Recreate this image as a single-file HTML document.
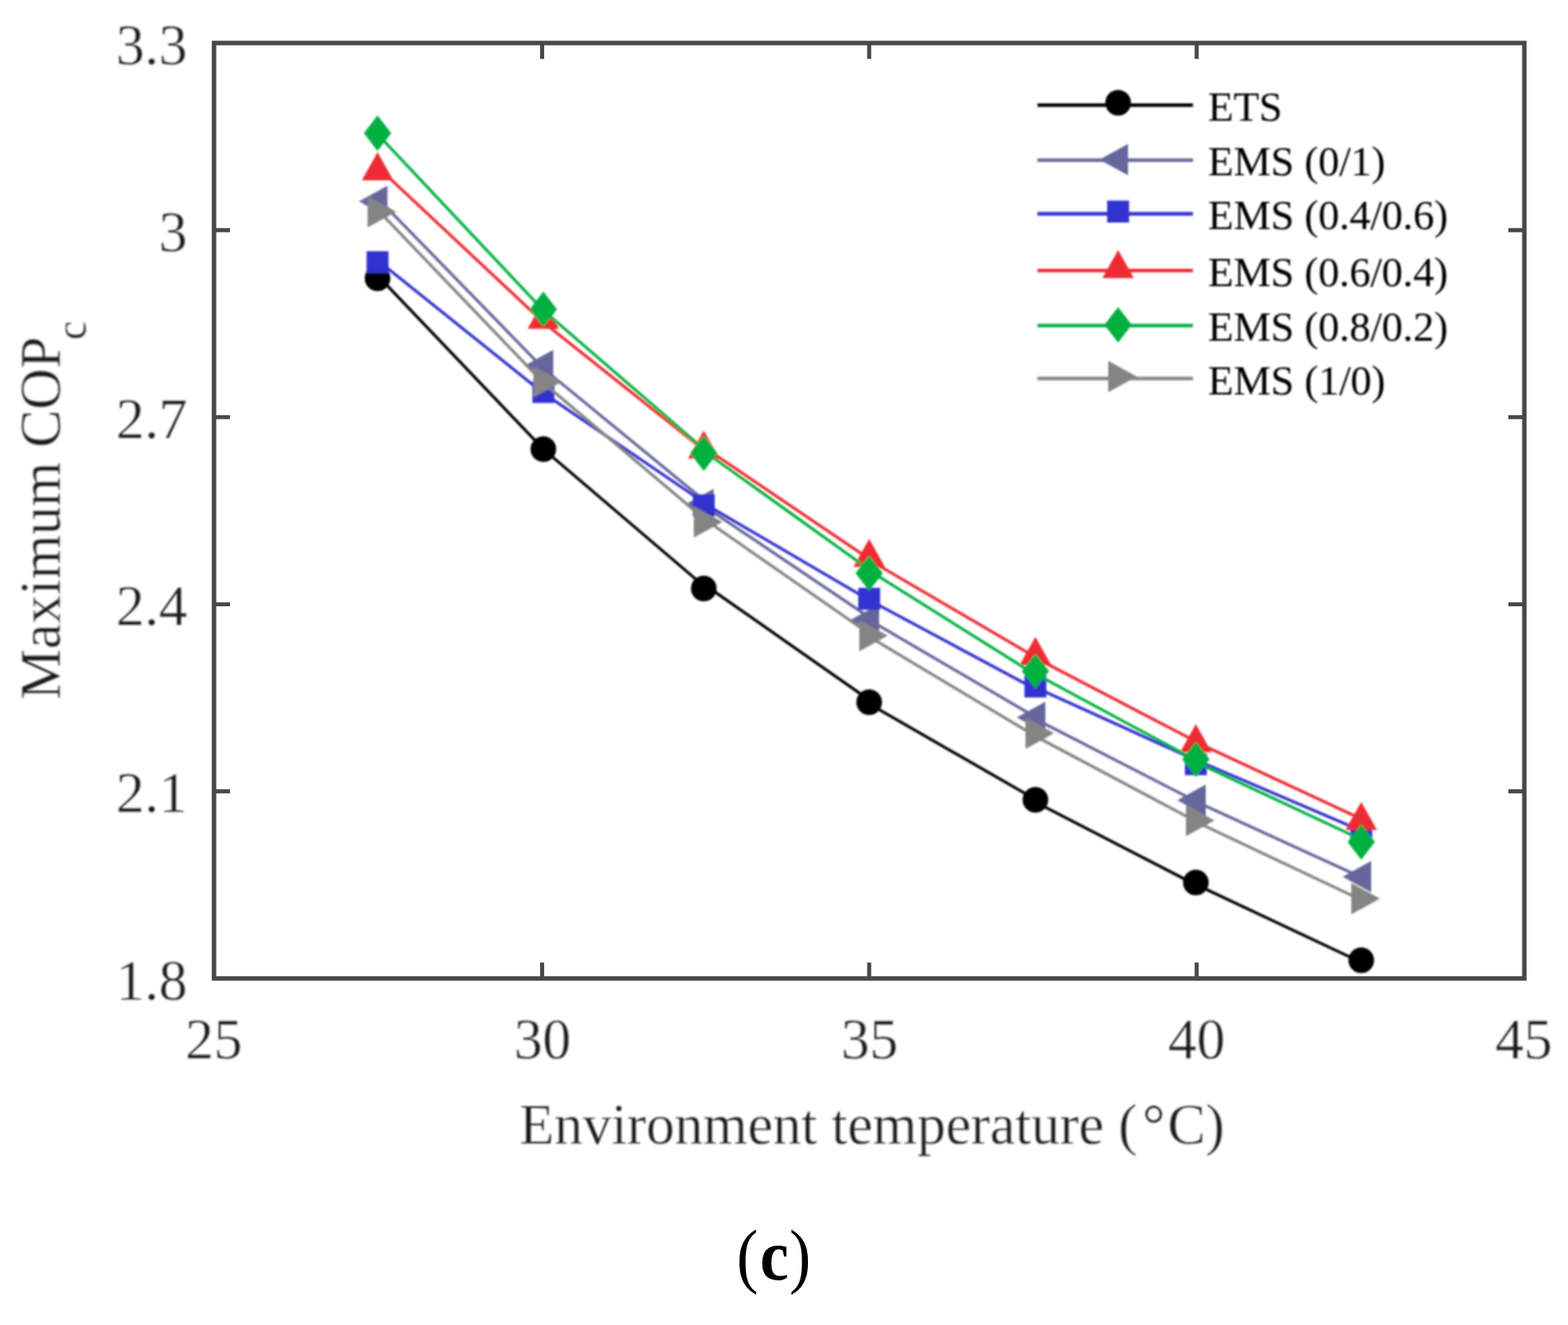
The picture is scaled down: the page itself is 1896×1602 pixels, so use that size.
<!DOCTYPE html>
<html lang="en"><head><meta charset="utf-8"><title>Maximum COPc vs environment temperature</title>
<style>
html,body{margin:0;padding:0;background:#fff;}
body{width:1896px;height:1602px;overflow:hidden;}
svg{display:block;}
text{font-family:"Liberation Serif","DejaVu Serif",serif;}
.tick{font-size:69px;fill:#1e1e1e;stroke:#fff;stroke-width:0.3px;stroke-linejoin:round;}
.leg{font-size:51px;fill:#000;letter-spacing:-0.24px;}
.cap{font-size:86.6px;fill:#000;}
</style></head><body>
<svg width="1896" height="1602" viewBox="0 0 1896 1602" role="img" aria-label="Maximum COPc versus environment temperature">
<defs><filter id="soft" x="-2%" y="-2%" width="104%" height="104%"><feGaussianBlur stdDeviation="0.8"/></filter></defs>
<rect width="1896" height="1602" fill="#ffffff"/>
<g fill="none" stroke="#484848">
<rect x="258.8" y="52" width="1584.4" height="1131" stroke-width="5.4"/>
<path d="M655.5 1183v-19.3M655.5 52v19.3M1051 1183v-19.3M1051 52v19.3M1447 1183v-19.3M1447 52v19.3M258.8 278.2h19.3M1843.2 278.2h-19.3M258.8 504.4h19.3M1843.2 504.4h-19.3M258.8 730.6h19.3M1843.2 730.6h-19.3M258.8 956.8h19.3M1843.2 956.8h-19.3" stroke-width="4.9"/>
</g>
<g filter="url(#soft)">
<path d="M456.5 333L657 543M657 543L851 708.5M851 706.2L1051 846.3M1051 850.9L1252 966.6M1252 969.7L1446 1069.9M1446 1069.4L1646 1163.5" fill="none" stroke="#000000" stroke-width="3.5" stroke-linecap="round"/>
<circle cx="456.5" cy="336.5" r="15.5" fill="#000000"/>
<circle cx="657" cy="543" r="15.5" fill="#000000"/>
<circle cx="851" cy="711.5" r="15.5" fill="#000000"/>
<circle cx="1051" cy="849" r="15.5" fill="#000000"/>
<circle cx="1252" cy="967" r="15.5" fill="#000000"/>
<circle cx="1446" cy="1067" r="15.5" fill="#000000"/>
<circle cx="1646" cy="1161" r="15.5" fill="#000000"/>
<path d="M456.5 239.5L657 445.5M657 445.5L851 604.7M851 611.5L1051 746.2M1051 749.6L1252 867M1252 869.4L1446 968.8M1446 969.2L1646 1060.7" fill="none" stroke="#66669c" stroke-width="3.5" stroke-linecap="round"/>
<polygon points="434,243.5 468.5,224.5 468.5,262.5" fill="#66669c"/>
<polygon points="634.5,442 669,423 669,461" fill="#66669c"/>
<polygon points="828.5,610 863,591 863,629" fill="#66669c"/>
<polygon points="1028.5,749.5 1063,730.5 1063,768.5" fill="#66669c"/>
<polygon points="1229.5,867.5 1264,848.5 1264,886.5" fill="#66669c"/>
<polygon points="1423.5,967.5 1458,948.5 1458,986.5" fill="#66669c"/>
<polygon points="1623.5,1060 1658,1041 1658,1079" fill="#66669c"/>
<path d="M456.5 314.7L657 475.3M657 475.3L851 607.4M851 608.5L1051 725.5M1051 725.5L1252 833.1M1252 831.2L1446 919.1M1446 918.8L1646 1004.4" fill="none" stroke="#3030d0" stroke-width="3.5" stroke-linecap="round"/>
<rect x="443.25" y="303.75" width="26.5" height="26.5" fill="#3030d0"/>
<rect x="643.75" y="460.75" width="26.5" height="26.5" fill="#3030d0"/>
<rect x="837.75" y="597.75" width="26.5" height="26.5" fill="#3030d0"/>
<rect x="1037.75" y="710.75" width="26.5" height="26.5" fill="#3030d0"/>
<rect x="1238.75" y="816.75" width="26.5" height="26.5" fill="#3030d0"/>
<rect x="1432.75" y="910.75" width="26.5" height="26.5" fill="#3030d0"/>
<rect x="1632.75" y="992.25" width="26.5" height="26.5" fill="#3030d0"/>
<path d="M456.5 201.7L657 389.7M657 389.7L851 544M851 540.6L1051 675.7M1051 677.1L1252 794.5M1252 795.4L1446 896.4M1446 897.2L1646 990.1" fill="none" stroke="#ee2c30" stroke-width="3.5" stroke-linecap="round"/>
<polygon points="456.5,184 475.5,218 437.5,218" fill="#ee2c30"/>
<polygon points="657,363.5 676,397.5 638,397.5" fill="#ee2c30"/>
<polygon points="851,520.5 870,554.5 832,554.5" fill="#ee2c30"/>
<polygon points="1051,651.5 1070,685.5 1032,685.5" fill="#ee2c30"/>
<polygon points="1252,770 1271,804 1233,804" fill="#ee2c30"/>
<polygon points="1446,875.5 1465,909.5 1427,909.5" fill="#ee2c30"/>
<polygon points="1646,969.5 1665,1003.5 1627,1003.5" fill="#ee2c30"/>
<path d="M456.5 162.1L657 375.3M657 375.3L851 543M851 545.1L1051 688.6M1051 689.8L1252 815.8M1252 814.8L1446 919.2M1446 921.3L1646 1015" fill="none" stroke="#00b141" stroke-width="3.5" stroke-linecap="round"/>
<polygon points="456.5,139.5 473,161 456.5,182.5 440,161" fill="#00b141"/>
<polygon points="657,352.5 673.5,374 657,395.5 640.5,374" fill="#00b141"/>
<polygon points="851,526.5 867.5,548 851,569.5 834.5,548" fill="#00b141"/>
<polygon points="1051,671.5 1067.5,693 1051,714.5 1034.5,693" fill="#00b141"/>
<polygon points="1252,790 1268.5,811.5 1252,833 1235.5,811.5" fill="#00b141"/>
<polygon points="1446,896.5 1462.5,918 1446,939.5 1429.5,918" fill="#00b141"/>
<polygon points="1646,996.5 1662.5,1018 1646,1039.5 1629.5,1018" fill="#00b141"/>
<path d="M456.5 253.5L657 462.8M657 462.8L851 626.8M851 627.1L1051 766.1M1051 769.8L1252 890M1252 890.1L1446 993M1446 993.5L1646 1088" fill="none" stroke="#848484" stroke-width="3.5" stroke-linecap="round"/>
<polygon points="479,256 444.5,237 444.5,275" fill="#848484"/>
<polygon points="679.5,461.5 645,442.5 645,480.5" fill="#848484"/>
<polygon points="873.5,631 839,612 839,650" fill="#848484"/>
<polygon points="1073.5,768.5 1039,749.5 1039,787.5" fill="#848484"/>
<polygon points="1274.5,886.5 1240,867.5 1240,905.5" fill="#848484"/>
<polygon points="1468.5,992 1434,973 1434,1011" fill="#848484"/>
<polygon points="1668.5,1086.5 1634,1067.5 1634,1105.5" fill="#848484"/>
<path d="M1254.5 127.2H1442.5" stroke="#000000" stroke-width="4.3" fill="none"/>
<circle cx="1352" cy="124.2" r="15.5" fill="#000000"/>
<text class="leg" x="1460.5" y="146">ETS</text>
<path d="M1254.5 193.6H1442.5" stroke="#66669c" stroke-width="4.3" fill="none"/>
<polygon points="1329.5,193.1 1364,174.1 1364,212.1" fill="#66669c"/>
<text class="leg" x="1460.5" y="212.4">EMS (0/1)</text>
<path d="M1254.5 258.5H1442.5" stroke="#3030d0" stroke-width="4.3" fill="none"/>
<rect x="1338.75" y="242.55" width="26.5" height="26.5" fill="#3030d0"/>
<text class="leg" x="1460.5" y="277.3">EMS (0.4/0.6)</text>
<path d="M1254.5 327.2H1442.5" stroke="#ee2c30" stroke-width="4.3" fill="none"/>
<polygon points="1352,302.2 1371,336.2 1333,336.2" fill="#ee2c30"/>
<text class="leg" x="1460.5" y="346">EMS (0.6/0.4)</text>
<path d="M1254.5 393.6H1442.5" stroke="#00b141" stroke-width="4.3" fill="none"/>
<polygon points="1352,371.3 1368.5,392.8 1352,414.3 1335.5,392.8" fill="#00b141"/>
<text class="leg" x="1460.5" y="412.4">EMS (0.8/0.2)</text>
<path d="M1254.5 457.7H1442.5" stroke="#848484" stroke-width="4.3" fill="none"/>
<polygon points="1374.5,455.3 1340,436.3 1340,474.3" fill="#848484"/>
<text class="leg" x="1460.5" y="476.5">EMS (1/0)</text>
<text class="tick" text-anchor="end" x="226.5" y="77.6">3.3</text>
<text class="tick" text-anchor="end" x="226.5" y="303.8">3</text>
<text class="tick" text-anchor="end" x="226.5" y="530">2.7</text>
<text class="tick" text-anchor="end" x="226.5" y="756.2">2.4</text>
<text class="tick" text-anchor="end" x="226.5" y="982.4">2.1</text>
<text class="tick" text-anchor="end" x="226.5" y="1208.6">1.8</text>
<text class="tick" text-anchor="middle" x="258.5" y="1280">25</text>
<text class="tick" text-anchor="middle" x="656" y="1280">30</text>
<text class="tick" text-anchor="middle" x="1051.5" y="1280">35</text>
<text class="tick" text-anchor="middle" x="1447" y="1280">40</text>
<text class="tick" text-anchor="middle" x="1842.5" y="1280">45</text>
<text class="tick" x="628" y="1382.5">Environment temperature (<tspan dx="6">°</tspan><tspan dx="3">C)</tspan></text>
<text class="tick" transform="translate(72.5 846) rotate(-90)">Maximum COP<tspan font-size="52" dx="-4" dy="30.5">c</tspan></text>
</g>
<text class="cap" transform="translate(0 1547.1) scale(0.9 1)"><tspan x="989.8">(</tspan><tspan x="1021.1" font-weight="bold">c</tspan><tspan x="1060.5">)</tspan></text>
</svg>
</body></html>
